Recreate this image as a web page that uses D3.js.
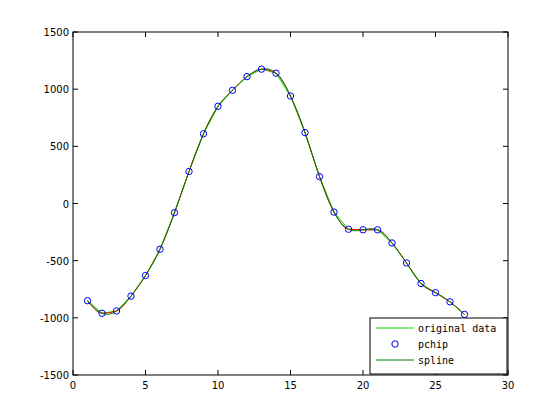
<!DOCTYPE html>
<html><head><meta charset="utf-8">
<script src="https://cdn.jsdelivr.net/npm/d3@7"></script>
<style>
body{margin:0;background:#fff}
text{font-family:"DejaVu Sans",sans-serif;font-size:10px}
.lgt{font-family:"DejaVu Sans Mono",monospace;font-size:10px}
</style></head><body>
<svg id="c" width="560" height="420"></svg>
<script>
// data
const xs = d3.range(1, 28);
const ys = [-850,-960,-940,-810,-630,-400,-80,280,610,850,990,1110,1175,1140,940,620,235,-75,-225,-230,-230,-345,-520,-700,-780,-860,-970];
const xTicks = [0,5,10,15,20,25,30];
const yTicks = [-1500,-1000,-500,0,500,1000,1500];

const L = 73, R = 508, T = 32, B = 375;
const svg = d3.select('#c');
const x = d3.scaleLinear().domain([0,30]).range([L,R]);
const y = d3.scaleLinear().domain([-1500,1500]).range([B,T]);
const pts = xs.map((v,i)=>[v, ys[i]]);

const g = svg.append('g');
svg.append('clipPath').attr('id','cp').append('rect')
  .attr('x',L).attr('y',T).attr('width',R-L).attr('height',B-T);
const plot = g.append('g').attr('clip-path','url(#cp)');

const line = c => d3.line().x(d=>x(d[0])).y(d=>y(d[1])).curve(c);
plot.append('path').attr('d', line(d3.curveLinear)(pts)).attr('fill','none').attr('stroke','#00e000').attr('stroke-width',1);
plot.append('path').attr('d', line(d3.curveMonotoneX)(pts)).attr('fill','none').attr('stroke','#ff0000').attr('stroke-width',1);
plot.append('path').attr('d', line(d3.curveNatural)(pts)).attr('fill','none').attr('stroke','#008000').attr('stroke-width',1);
plot.selectAll('circle').data(pts).join('circle')
  .attr('cx',d=>x(d[0])).attr('cy',d=>y(d[1])).attr('r',3.2)
  .attr('fill','none').attr('stroke','#0000ff').attr('stroke-width',1);

// axes box and ticks (inward)
g.append('rect').attr('x',L).attr('y',T).attr('width',R-L).attr('height',B-T)
  .attr('fill','none').attr('stroke','#000');
xTicks.forEach(t=>{
  g.append('line').attr('x1',x(t)).attr('x2',x(t)).attr('y1',B).attr('y2',B-5).attr('stroke','#000');
  g.append('line').attr('x1',x(t)).attr('x2',x(t)).attr('y1',T).attr('y2',T+5).attr('stroke','#000');
  g.append('text').attr('x',x(t)).attr('y',B+14).attr('text-anchor','middle').text(t);
});
yTicks.forEach(t=>{
  g.append('line').attr('x1',L).attr('x2',L+5).attr('y1',y(t)).attr('y2',y(t)).attr('stroke','#000');
  g.append('line').attr('x1',R).attr('x2',R-5).attr('y1',y(t)).attr('y2',y(t)).attr('stroke','#000');
  g.append('text').attr('x',L-4).attr('y',y(t)+4).attr('text-anchor','end').text(t);
});

// legend
const lg = svg.append('g').attr('transform','translate(370,318)');
lg.append('rect').attr('width',137).attr('height',56).attr('fill','#fff').attr('stroke','#000');
const items = [['original data','line','#00e000'],['pchip','circle','#0000ff'],['spline','line','#008000']];
items.forEach((it,i)=>{
  const cy = 10 + i*16;
  if (it[1]==='line') lg.append('line').attr('x1',6).attr('x2',44).attr('y1',cy).attr('y2',cy).attr('stroke',it[2]);
  else lg.append('circle').attr('cx',25).attr('cy',cy).attr('r',3.2).attr('fill','none').attr('stroke',it[2]);
  lg.append('text').attr('class','lgt').attr('x',48).attr('y',cy+4).text(it[0]);
});
</script></body></html>
